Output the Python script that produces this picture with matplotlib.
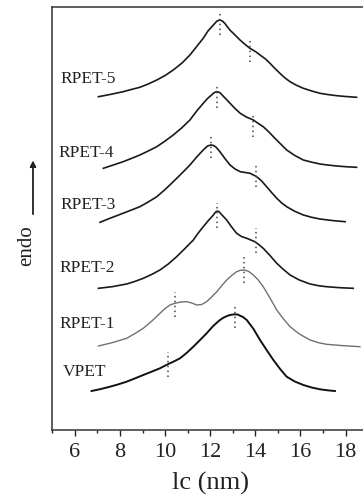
import matplotlib.pyplot as plt

plt.rcParams['font.family'] = ['Liberation Serif', 'DejaVu Serif']

# curves: lc (nm) vs endotherm (arbitrary, stacked)
vpet_x = [6.74, 7.15, 7.55, 7.90, 8.29, 8.65, 9.03, 9.40, 9.77, 10.14, 10.40, 10.66,
          10.95, 11.25, 11.55, 11.84, 12.13, 12.43, 12.60, 12.80, 12.95, 13.09, 13.22,
          13.35, 13.45, 13.62, 13.92, 14.21, 14.50, 14.80, 15.10, 15.39, 15.75, 16.13,
          16.50, 16.87, 17.20, 17.53]
vpet_y = [38.5, 40.5, 42.8, 45.0, 47.8, 51.0, 54.5, 57.8, 61.2, 65.5, 68.2, 71.2,
          76.5, 82.8, 89.5, 96.2, 103.5, 109.5, 112.0, 114.0, 114.8, 115.2, 115.0,
          113.5, 112.5, 109.5, 100.5, 89.5, 79.5, 69.5, 60.5, 52.8, 48.0, 44.5,
          42.0, 40.2, 39.2, 38.5]

rpet1_x = [7.04, 7.65, 8.29, 8.65, 9.03, 9.40, 9.77, 9.99, 10.21, 10.43, 10.70, 10.96,
           11.18, 11.40, 11.62, 11.84, 12.06, 12.29, 12.51, 12.73, 12.95, 13.17, 13.34,
           13.51, 13.70, 13.91, 14.13, 14.35, 14.65, 14.95, 15.25, 15.54, 15.95, 16.43,
           16.80, 17.16, 17.80, 18.64]
rpet1_y = [83.5, 86.8, 91.2, 95.8, 101.2, 108.2, 116.2, 120.8, 124.5, 126.2, 127.5, 127.8,
           126.5, 124.5, 125.0, 127.8, 132.5, 137.8, 143.8, 149.5, 154.0, 157.8, 159.2,
           159.5, 158.2, 154.5, 149.5, 142.8, 131.5, 119.5, 110.5, 102.8, 95.5, 89.5,
           86.8, 85.2, 84.0, 82.8]

rpet2_x = [7.04, 7.65, 8.29, 8.65, 9.03, 9.40, 9.77, 10.14, 10.51, 10.88, 11.25, 11.47,
           11.69, 11.92, 12.14, 12.22, 12.29, 12.38, 12.50, 12.73, 12.95, 13.17, 13.40,
           13.62, 13.80, 13.98, 14.16, 14.35, 14.65, 14.95, 15.25, 15.54, 15.95, 16.43,
           16.80, 17.16, 17.75, 18.34]
rpet2_y = [141.2, 142.8, 145.5, 148.0, 151.2, 155.0, 159.5, 165.5, 172.8, 181.0, 189.5, 196.5,
           202.8, 209.0, 214.5, 217.0, 218.3, 218.0, 215.0, 209.5, 202.5, 196.2, 192.8,
           191.2, 189.5, 187.8, 184.8, 181.2, 174.0, 166.2, 160.0, 154.5, 149.5, 145.5,
           143.8, 142.8, 141.8, 141.2]

rpet3_x = [7.11, 7.55, 8.20, 8.88, 9.25, 9.63, 10.00, 10.36, 10.73, 11.10, 11.40, 11.69,
           11.88, 12.03, 12.15, 12.25, 12.43, 12.65, 12.88, 13.10, 13.33, 13.55, 13.77,
           14.06, 14.28, 14.50, 14.72, 14.95, 15.17, 15.39, 15.75, 16.13, 16.50, 16.87,
           17.40, 17.98]
rpet3_y = [207.2, 211.2, 216.8, 222.8, 227.5, 232.8, 240.0, 247.8, 256.0, 264.5, 272.5, 279.5,
           283.5, 284.5, 284.0, 282.5, 277.8, 271.0, 264.5, 260.5, 257.8, 257.0, 256.2,
           252.8, 248.5, 242.8, 237.0, 231.2, 226.5, 222.8, 218.2, 214.5, 212.2, 210.5,
           209.0, 207.8]

rpet4_x = [7.26, 7.70, 8.14, 8.50, 8.88, 9.25, 9.63, 10.00, 10.36, 10.73, 11.10, 11.40,
           11.69, 11.88, 12.06, 12.17, 12.29, 12.42, 12.55, 12.88, 13.10, 13.33, 13.60,
           13.91, 14.10, 14.35, 14.58, 14.80, 15.10, 15.39, 15.75, 16.13, 16.50, 16.87,
           17.20, 17.61, 18.00, 18.49]
rpet4_y = [261.2, 264.5, 267.8, 271.0, 274.5, 278.5, 282.8, 288.5, 294.5, 301.5, 309.5, 318.5,
           326.2, 331.0, 334.5, 336.8, 337.8, 337.0, 334.0, 326.2, 321.0, 316.2, 312.5,
           309.5, 306.5, 302.8, 298.0, 292.8, 286.0, 279.5, 274.0, 269.5, 267.3, 265.5,
           264.5, 263.5, 262.8, 262.2]

rpet5_x = [7.04, 7.60, 8.14, 8.50, 8.88, 9.25, 9.63, 10.00, 10.36, 10.75, 11.10, 11.40,
           11.69, 11.90, 12.14, 12.30, 12.43, 12.55, 12.65, 12.87, 13.10, 13.32, 13.55,
           13.76, 14.00, 14.21, 14.45, 14.65, 14.87, 15.09, 15.30, 15.54, 15.80, 16.13,
           16.50, 16.87, 17.20, 17.61, 18.00, 18.49]
rpet5_y = [332.8, 335.2, 337.8, 340.0, 342.2, 345.5, 349.5, 354.0, 359.5, 366.5, 374.5, 383.0,
           391.2, 398.5, 404.5, 408.5, 409.5, 408.3, 406.0, 399.5, 394.5, 389.5, 385.0,
           381.2, 378.0, 374.5, 370.5, 366.2, 361.0, 356.2, 351.8, 347.8, 344.5, 341.2,
           338.5, 336.2, 335.0, 333.8, 333.0, 332.2]

# dotted peak markers: position, lower end, upper end
mark_x = [10.14, 13.10, 10.44, 13.51, 12.32, 14.03, 12.03, 14.02, 12.29, 13.89, 12.45, 13.78]
mark_lo = [52.8, 101.2, 112.8, 146.2, 201.2, 176.2, 271.2, 242.5, 321.2, 292.8, 394.5, 367.5]
mark_hi = [77.8, 124.5, 137.8, 172.8, 226.2, 201.2, 294.5, 266.2, 344.5, 316.2, 417.8, 391.2]

names = ['VPET', 'RPET-1', 'RPET-2', 'RPET-3', 'RPET-4', 'RPET-5']
name_x = [5.47, 5.31, 5.31, 5.38, 5.26, 5.34]
name_y = [58, 105.5, 161.5, 225, 276.7, 350]

fig = plt.figure(figsize=(3.63, 5.03), dpi=100)
ax = fig.add_axes([0.1443, 0.1461, 0.8697, 0.8406])

ax.plot(vpet_x, vpet_y, color='#111111', lw=1.4)
ax.plot(rpet1_x, rpet1_y, color='#707070', lw=1.0)
ax.plot(rpet2_x, rpet2_y, color='#1a1a1a', lw=1.2)
ax.plot(rpet3_x, rpet3_y, color='#1a1a1a', lw=1.2)
ax.plot(rpet4_x, rpet4_y, color='#1a1a1a', lw=1.2)
ax.plot(rpet5_x, rpet5_y, color='#1a1a1a', lw=1.2)

for mx, lo, hi in zip(mark_x, mark_lo, mark_hi):
    ax.plot([mx, mx], [lo, hi], color='#444444', lw=1.1, ls=(0, (1, 2.2)))

for nm, nx, ny in zip(names, name_x, name_y):
    ax.text(nx, ny, nm, fontsize=12.5, color='#222222', ha='left', va='center')

ax.set_xlim(5, 19)
ax.set_ylim(0, 422.8)
ax.set_xticks([6, 8, 10, 12, 14, 16, 18])
ax.set_xticks([5, 7, 9, 11, 13, 15, 17, 19], minor=True)
ax.set_yticks([])
ax.tick_params(axis='x', which='major', direction='out', length=4.3, width=1.0,
               labelsize=16, pad=5.5, colors='#222222')
ax.tick_params(axis='x', which='minor', direction='out', length=2.3, width=1.0,
               colors='#222222')
for s in ax.spines.values():
    s.set_linewidth(1.1)
    s.set_color('#333333')

ax.set_xlabel('lc (nm)', fontsize=19, color='#222222', labelpad=7)

fig.text(27 / 363, 1 - 246 / 503, 'endo', rotation=90, fontsize=15,
         color='#222222', ha='center', va='center')
fig.add_artist(plt.annotate('', xy=(33 / 363, 1 - 158 / 503), xytext=(33 / 363, 1 - 217 / 503),
                            xycoords='figure fraction',
                            arrowprops=dict(arrowstyle='-|>', lw=1.0, color='#222222',
                                            mutation_scale=9)))

fig.savefig('out.png', dpi=100)
